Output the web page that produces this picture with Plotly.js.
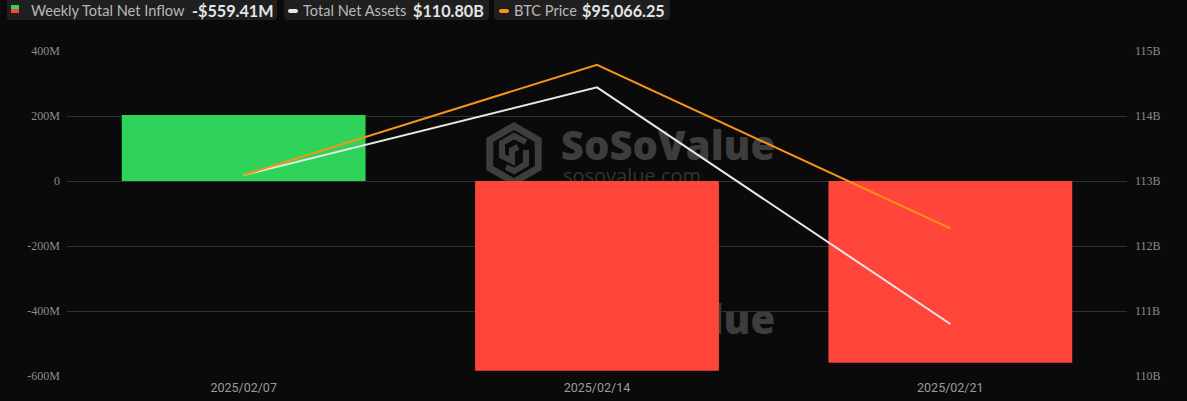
<!DOCTYPE html>
<html>
<head>
<meta charset="utf-8">
<script src="https://cdn.plot.ly/plotly-3.0.1.min.js"></script>
<style>
  html, body { margin: 0; padding: 0; background: #0a0a0a; }
  #chart { width: 1187px; height: 401px; }
</style>
</head>
<body>
<div id="chart"></div>
<script>
// ---------------- data ----------------
const categories = ['2025/02/07', '2025/02/14', '2025/02/21'];
const netInflow = [203e6, -584e6, -559.41e6];            // Weekly Total Net Inflow (USD)
const totalNetAssets = [113.09e9, 114.44e9, 110.80e9];   // Total Net Assets (USD)
const btcPrice = [96560, 99650, 95066.25];               // BTC Price (USD)

const leftTickVals = [-600e6, -400e6, -200e6, 0, 200e6, 400e6];
const leftTickText = ['-600M', '-400M', '-200M', '0', '200M', '400M'];
const rightTickVals = [110e9, 111e9, 112e9, 113e9, 114e9, 115e9];
const rightTickText = ['110B', '111B', '112B', '113B', '114B', '115B'];

const legendLabels = ['Weekly Total Net Inflow', 'Total Net Assets', 'BTC Price'];
const legendValues = ['-$559.41M', '$110.80B', '$95,066.25'];

// ---------------- styling / geometry ----------------
const W = 1187, H = 401, ML = 67, MR = 60, MT = 51, MB = 25;
const PW = W - ML - MR, PH = H - MT - MB;
const px = x => (x - ML) / PW;
const py = y => (H - MB - y) / PH;

const GREEN = '#2fd35a', RED = '#ff453a', WHITE = '#e8e8e8', ORANGE = '#f7931a';
const WM = '#3d3d3d';

function roundRect(x0, y0, x1, y1, r) {
  const P = (x, y) => px(x) + ',' + py(y);
  return 'M' + P(x0 + r, y0) + ' L' + P(x1 - r, y0) + ' Q' + P(x1, y0) + ' ' + P(x1, y0 + r) +
    ' L' + P(x1, y1 - r) + ' Q' + P(x1, y1) + ' ' + P(x1 - r, y1) +
    ' L' + P(x0 + r, y1) + ' Q' + P(x0, y1) + ' ' + P(x0, y1 - r) +
    ' L' + P(x0, y0 + r) + ' Q' + P(x0, y0) + ' ' + P(x0 + r, y0) + ' Z';
}
function polyPath(pts, close) {
  return pts.map((p, i) => (i ? 'L' : 'M') + px(p[0]) + ',' + py(p[1])).join(' ') + (close ? ' Z' : '');
}

const shapes = [];
const annotations = [];

// legend boxes
const boxes = [[7, 277], [284, 489], [494, 670]];
boxes.forEach(b => {
  shapes.push({ type: 'path', xref: 'paper', yref: 'paper', path: roundRect(b[0], -6, b[1], 20, 4),
    fillcolor: '#1f1f1f', line: { width: 0 }, layer: 'above' });
});
// legend icons
shapes.push({ type: 'rect', xref: 'paper', yref: 'paper', x0: px(11), x1: px(19), y0: py(5), y1: py(9),
  fillcolor: GREEN, line: { width: 0 } });
shapes.push({ type: 'rect', xref: 'paper', yref: 'paper', x0: px(11), x1: px(19), y0: py(9), y1: py(13),
  fillcolor: RED, line: { width: 0 } });
shapes.push({ type: 'path', xref: 'paper', yref: 'paper', path: roundRect(288, 9, 298, 13, 2),
  fillcolor: WHITE, line: { width: 0 } });
shapes.push({ type: 'path', xref: 'paper', yref: 'paper', path: roundRect(499, 9, 509, 13, 2),
  fillcolor: ORANGE, line: { width: 0 } });

const labelX = [29, 301, 512];
const valueX = [190, 411, 580];
for (let i = 0; i < 3; i++) {
  annotations.push({ xref: 'paper', yref: 'paper', x: px(labelX[i]), y: py(10.5), xanchor: 'left', yanchor: 'middle',
    text: legendLabels[i], showarrow: false, font: { family: 'Lato', size: 14.6, color: '#b8b8b8' } });
  annotations.push({ xref: 'paper', yref: 'paper', x: px(valueX[i]), y: py(10.5), xanchor: 'left', yanchor: 'middle',
    text: '<b>' + legendValues[i] + '</b>', showarrow: false, font: { family: 'Lato', size: 16.2, color: '#e4e4e4' } });
}

// watermarks (drawn below the data)
function watermark(dy) {
  shapes.push({ type: 'rect', xref: 'paper', yref: 'paper', layer: 'below',
    x0: px(558), x1: px(778), y0: py(127 + dy), y1: py(167 + dy),
    line: { width: 0 }, fillcolor: 'rgba(0,0,0,0)',
    label: { text: 'SoSoValue', textposition: 'middle center',
      font: { family: 'Open Sans', size: 40, weight: 800, color: WM } } });
  shapes.push({ type: 'rect', xref: 'paper', yref: 'paper', layer: 'below',
    x0: px(560), x1: px(704), y0: py(165 + dy), y1: py(187 + dy),
    line: { width: 0 }, fillcolor: 'rgba(0,0,0,0)',
    label: { text: 'sosovalue.com', textposition: 'middle center',
      font: { family: 'Open Sans', size: 20, weight: 400, color: '#343434' } } });
  const cx = 514, cy = 154 + dy, r = 28;
  const hex = [];
  for (let k = 0; k < 6; k++) {
    const a = Math.PI / 2 + k * Math.PI / 3;
    hex.push([cx + r * Math.cos(a), cy - r * Math.sin(a)]);
  }
  shapes.push({ type: 'path', xref: 'paper', yref: 'paper', layer: 'below', path: polyPath(hex, true),
    line: { color: WM, width: 7 }, fillcolor: 'rgba(0,0,0,0)' });
  shapes.push({ type: 'path', xref: 'paper', yref: 'paper', layer: 'below',
    path: polyPath([[cx + 12, cy - 12], [cx, cy - 18], [cx - 12, cy - 11], [cx - 12, cy + 2], [cx - 2, cy + 7], [cx - 2, cy - 4], [cx + 4, cy - 7]], false),
    line: { color: WM, width: 6 }, fillcolor: 'rgba(0,0,0,0)' });
  shapes.push({ type: 'path', xref: 'paper', yref: 'paper', layer: 'below',
    path: polyPath([[cx + 12, cy - 4], [cx + 12, cy + 10], [cx, cy + 17], [cx - 8, cy + 13]], false),
    line: { color: WM, width: 6 }, fillcolor: 'rgba(0,0,0,0)' });
}
watermark(0);
watermark(174);

// ---------------- traces ----------------
const traces = [
  { type: 'bar', x: categories, y: netInflow, yaxis: 'y', name: legendLabels[0],
    marker: { color: netInflow.map(v => v >= 0 ? GREEN : RED), line: { width: 0 } },
    hoverinfo: 'skip' },
  { type: 'scatter', mode: 'lines', x: categories, y: totalNetAssets, yaxis: 'y2', name: legendLabels[1],
    line: { color: WHITE, width: 2 }, hoverinfo: 'skip' },
  { type: 'scatter', mode: 'lines', x: categories, y: btcPrice, yaxis: 'y3', name: legendLabels[2],
    line: { color: ORANGE, width: 2 }, hoverinfo: 'skip' }
];

const tickFontSerif = { family: 'Liberation Serif', size: 12, color: '#8c8c8c' };

const layout = {
  width: W, height: H,
  margin: { l: ML, r: MR, t: MT, b: MB, pad: 0 },
  paper_bgcolor: '#0a0a0a', plot_bgcolor: '#0a0a0a',
  showlegend: false,
  bargap: 0.31,
  xaxis: { type: 'category', showgrid: false, zeroline: false, showline: false, ticks: '',
    tickfont: { family: 'Roboto', size: 12.5, color: '#9a9a9a' }, ticklabelstandoff: 2,
    range: [-0.5, 2.5], fixedrange: true },
  yaxis: { range: [-600e6, 400e6], tickvals: leftTickVals, ticktext: leftTickText,
    showgrid: true, gridcolor: '#303030', gridwidth: 1, zeroline: false, showline: false, ticks: '',
    tickfont: tickFontSerif, ticklabelstandoff: 6, fixedrange: true },
  yaxis2: { overlaying: 'y', side: 'right', range: [110e9, 115e9], tickvals: rightTickVals, ticktext: rightTickText,
    showgrid: false, zeroline: false, showline: false, ticks: '', tickfont: tickFontSerif,
    ticklabelstandoff: 7, fixedrange: true },
  yaxis3: { overlaying: 'y', side: 'right', range: [90926, 100036], visible: false, fixedrange: true },
  shapes: shapes,
  annotations: annotations
};

Plotly.newPlot('chart', traces, layout, { staticPlot: true, displayModeBar: false });
</script>
</body>
</html>
